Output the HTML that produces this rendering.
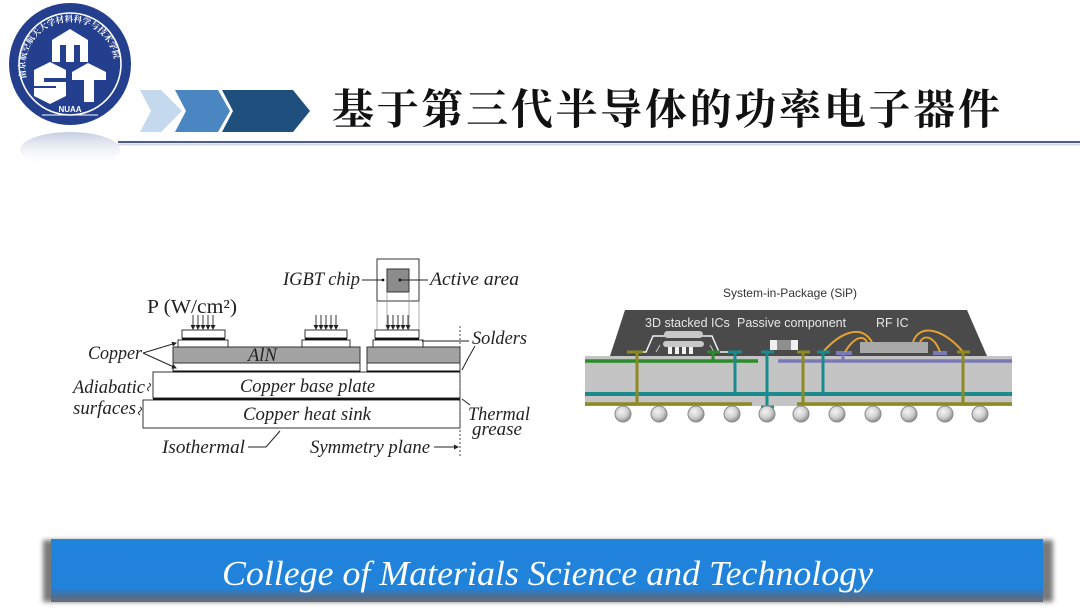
<!DOCTYPE html>
<html><head><meta charset="utf-8">
<style>
html,body{margin:0;padding:0;background:#fff;}
body{width:1080px;height:608px;overflow:hidden;}
svg{display:block;}
.it{font-family:"Liberation Serif",serif;font-style:italic;fill:#222;font-size:18.5px;}
.sf{font-family:"Liberation Sans",sans-serif;}
</style></head>
<body>
<svg width="1080" height="608" viewBox="0 0 1080 608" xmlns="http://www.w3.org/2000/svg">
<defs>
  <radialGradient id="ball" cx="40%" cy="35%" r="65%">
    <stop offset="0" stop-color="#f4f4f4"/>
    <stop offset="0.6" stop-color="#cfcfcf"/>
    <stop offset="1" stop-color="#8e8e8e"/>
  </radialGradient>
  <linearGradient id="ban" x1="0" y1="0" x2="0" y2="1">
    <stop offset="0" stop-color="#2083dc"/>
    <stop offset="0.78" stop-color="#2182da"/>
    <stop offset="0.9" stop-color="#4a6f96"/>
    <stop offset="1" stop-color="#6a6e74"/>
  </linearGradient>
  <linearGradient id="refl" x1="0" y1="0" x2="0" y2="1">
    <stop offset="0" stop-color="#8c9cc4" stop-opacity="0.5"/>
    <stop offset="1" stop-color="#ffffff" stop-opacity="0"/>
  </linearGradient>
  <filter id="blur2"><feGaussianBlur stdDeviation="2.5"/></filter>
  <path id="ringpath" d="M 27 80 A 45 45 0 1 1 113 80"/>
  <marker id="ahs" markerWidth="5" markerHeight="5" refX="4" refY="2.5" orient="auto" markerUnits="userSpaceOnUse">
    <path d="M0,0 L5,2.5 L0,5 z" fill="#222"/>
  </marker>
</defs>

<!-- ===== Logo ===== -->
<ellipse cx="70" cy="150" rx="50" ry="18" fill="url(#refl)"/>
<circle cx="70" cy="64" r="61" fill="#233f8e"/>
<circle cx="70" cy="64" r="51" fill="none" stroke="#fff" stroke-width="1.6"/>
<circle cx="70" cy="64" r="49" fill="#233f8e"/>
<text font-family="'Noto Serif CJK SC',serif" font-size="8.5" fill="#fff" font-weight="700">
  <textPath href="#ringpath" startOffset="2">南京航空航天大学材料科学与技术学院</textPath>
</text>
<path d="M52,40 L70,29 L88,40 L88,62 L80,62 L80,45 L74,45 L74,62 L66,62 L66,45 L60,45 L60,62 L52,62 Z" fill="#fff"/>
<path d="M34,70 L50,62 L66,70 L66,78 L44,78 L44,82 L66,82 L66,96 L50,104 L34,96 L34,88 L56,88 L56,86 L34,86 Z" fill="#fff"/>
<path d="M72,72 L88,63 L106,72 L106,80 L94,80 L94,102 L84,102 L84,80 L72,80 Z" fill="#fff"/>
<text x="70" y="112" text-anchor="middle" font-family="'Liberation Sans',sans-serif" font-weight="700" font-size="8" fill="#fff">NUAA</text>
<line x1="42" y1="115" x2="98" y2="115" stroke="#fff" stroke-width="1"/>

<!-- ===== Chevrons ===== -->
<polygon points="140,90 161,90 182,111 161,132 140,132 151,111" fill="#c4d8ee"/>
<polygon points="175,90 218,90 230,111 218,132 175,132 186,111" fill="#4a87c2"/>
<polygon points="222,90 293,90 310,111 293,132 222,132 233,111" fill="#1f4f7c"/>

<!-- ===== Title ===== -->
<text x="332" y="124" font-family="'Noto Serif CJK SC','Noto Sans CJK SC',serif" font-weight="700" font-size="42" fill="#111" textLength="668" lengthAdjust="spacing">基于第三代半导体的功率电子器件</text>
<line x1="118" y1="142" x2="1080" y2="142" stroke="#4d5b95" stroke-width="2"/>
<line x1="118" y1="144.5" x2="1080" y2="144.5" stroke="#d6dae6" stroke-width="2"/>

<!-- ===== Left diagram ===== -->
<g stroke="#333" stroke-width="1" fill="#fff">
  <rect x="377" y="259" width="42" height="42"/>
  <rect x="387" y="269" width="22" height="23" fill="#8c8c8c"/>
</g>
<g stroke="#999" stroke-width="0.8">
  <line x1="377" y1="301" x2="377" y2="330"/>
  <line x1="419" y1="301" x2="419" y2="330"/>
  <line x1="387" y1="292" x2="387" y2="330"/>
  <line x1="409" y1="292" x2="409" y2="330"/>
</g>
<circle cx="400" cy="280" r="1.5" fill="#111"/>
<line x1="400" y1="280" x2="428" y2="280" stroke="#222" stroke-width="1"/>
<line x1="362" y1="280" x2="383" y2="280" stroke="#222" stroke-width="1"/>
<circle cx="383" cy="280" r="1.4" fill="#111"/>
<text class="it" x="283" y="285" textLength="77" lengthAdjust="spacingAndGlyphs">IGBT chip</text>
<text class="it" x="430" y="285" textLength="89" lengthAdjust="spacingAndGlyphs">Active area</text>

<text x="147" y="313" font-family="'Liberation Serif',serif" font-size="20" fill="#222" textLength="90" lengthAdjust="spacingAndGlyphs">P (W/cm²)</text>

<g stroke="#222" stroke-width="0.9" marker-end="url(#ahs)">
  <line x1="193" y1="315" x2="193" y2="329"/><line x1="198" y1="315" x2="198" y2="329"/><line x1="203" y1="315" x2="203" y2="329"/><line x1="208" y1="315" x2="208" y2="329"/><line x1="213" y1="315" x2="213" y2="329"/>
  <line x1="316" y1="315" x2="316" y2="329"/><line x1="321" y1="315" x2="321" y2="329"/><line x1="326" y1="315" x2="326" y2="329"/><line x1="331" y1="315" x2="331" y2="329"/><line x1="336" y1="315" x2="336" y2="329"/>
  <line x1="388" y1="315" x2="388" y2="329"/><line x1="393" y1="315" x2="393" y2="329"/><line x1="398" y1="315" x2="398" y2="329"/><line x1="403" y1="315" x2="403" y2="329"/><line x1="408" y1="315" x2="408" y2="329"/>
</g>

<g stroke="#333" stroke-width="1" fill="#fff">
  <rect x="182" y="330" width="43" height="8"/>
  <rect x="305" y="330" width="42" height="8"/>
  <rect x="375" y="330" width="44" height="8"/>
  <rect x="178" y="340" width="50" height="7"/>
  <rect x="302" y="340" width="48" height="7"/>
  <rect x="373" y="340" width="50" height="7"/>
  <rect x="173" y="347" width="187" height="16" fill="#a3a3a3"/>
  <rect x="367" y="347" width="93" height="16" fill="#a3a3a3"/>
  <rect x="173" y="363" width="187" height="8"/>
  <rect x="367" y="363" width="93" height="8"/>
  <rect x="153" y="372" width="307" height="26"/>
  <rect x="143" y="400" width="317" height="28"/>
</g>
<g stroke="#111" stroke-width="2">
  <line x1="182" y1="339" x2="225" y2="339"/>
  <line x1="305" y1="339" x2="347" y2="339"/>
  <line x1="375" y1="339" x2="419" y2="339"/>
  <line x1="173" y1="371.5" x2="360" y2="371.5"/>
  <line x1="367" y1="371.5" x2="460" y2="371.5"/>
  <line x1="153" y1="399" x2="460" y2="399"/>
</g>
<line x1="460" y1="326" x2="460" y2="456" stroke="#444" stroke-width="1" stroke-dasharray="2,2"/>

<text class="it" x="88" y="359" textLength="54" lengthAdjust="spacingAndGlyphs">Copper</text>
<line x1="143" y1="353" x2="176" y2="343" stroke="#222" stroke-width="1" marker-end="url(#ahs)"/>
<line x1="143" y1="353" x2="176" y2="368" stroke="#222" stroke-width="1" marker-end="url(#ahs)"/>
<text class="it" x="248" y="361" fill="#333">AlN</text>
<text class="it" x="472" y="344" textLength="55" lengthAdjust="spacingAndGlyphs">Solders</text>
<line x1="422" y1="341" x2="469" y2="341" stroke="#222" stroke-width="1"/>
<path d="M475,346 Q468,358 462,370" fill="none" stroke="#222" stroke-width="1"/>
<text class="it" x="73" y="393" textLength="72" lengthAdjust="spacingAndGlyphs">Adiabatic</text>
<text class="it" x="73" y="414" textLength="63" lengthAdjust="spacingAndGlyphs">surfaces</text>
<path d="M149,383 q3,2 0,4 q-3,2 0,4" fill="none" stroke="#222" stroke-width="1"/>
<path d="M140,407 q3,2 0,4 q-3,2 0,4" fill="none" stroke="#222" stroke-width="1"/>
<text class="it" x="240" y="392" textLength="135" lengthAdjust="spacingAndGlyphs">Copper base plate</text>
<text class="it" x="243" y="420" textLength="128" lengthAdjust="spacingAndGlyphs">Copper heat sink</text>
<text class="it" x="468" y="420" textLength="62" lengthAdjust="spacingAndGlyphs">Thermal</text>
<text class="it" x="472" y="435" textLength="50" lengthAdjust="spacingAndGlyphs">grease</text>
<line x1="462" y1="399" x2="470" y2="405" stroke="#222" stroke-width="1"/>
<text class="it" x="162" y="453" textLength="83" lengthAdjust="spacingAndGlyphs">Isothermal</text>
<path d="M248,447 L266,447 L280,431" fill="none" stroke="#222" stroke-width="1"/>
<text class="it" x="310" y="453" textLength="120" lengthAdjust="spacingAndGlyphs">Symmetry plane</text>
<line x1="434" y1="447" x2="458" y2="447" stroke="#222" stroke-width="1" marker-end="url(#ahs)"/>

<!-- ===== Right diagram: SiP ===== -->
<text class="sf" x="790" y="297" text-anchor="middle" font-size="12" fill="#333">System-in-Package (SiP)</text>
<polygon points="625,310 967,310 987,356 610,356" fill="#4a4a4a"/>
<text class="sf" x="645" y="327" font-size="12.5" fill="#e8e8e8">3D stacked ICs</text>
<text class="sf" x="737" y="327" font-size="12.5" fill="#e8e8e8">Passive component</text>
<text class="sf" x="876" y="327" font-size="12.5" fill="#e8e8e8">RF IC</text>

<path d="M641,352 L646,352 L653,336 L712,336 L719,352 L728,352" fill="none" stroke="#f2f2f2" stroke-width="1.5"/>
<rect x="664" y="331" width="39" height="7" rx="3.5" fill="#c8c8c8"/>
<rect x="663" y="341" width="41" height="6" rx="3" fill="#c8c8c8"/>
<g fill="#f2f2f2"><rect x="668" y="347" width="4" height="7"/><rect x="675" y="347" width="4" height="7"/><rect x="682" y="347" width="4" height="7"/><rect x="689" y="347" width="4" height="7"/></g>
<path d="M656,352 L660,345 M710,345 L714,352" stroke="#ddd" stroke-width="0.8"/>

<rect x="770" y="340" width="28" height="10" fill="#f0f0f0"/>
<rect x="777" y="340" width="14" height="10" fill="#8f8f8f"/>

<rect x="860" y="342" width="68" height="11" fill="#a9a9a9"/>
<rect x="836" y="351" width="16" height="4" fill="#7b79b5"/>
<rect x="933" y="351" width="14" height="4" fill="#7b79b5"/>
<g fill="none" stroke="#e2a232" stroke-width="2">
  <path d="M823,352 C838,335 860,322 872,342"/>
  <path d="M845,352 C852,340 862,333 867,342"/>
  <path d="M913,342 C920,322 945,330 963,352"/>
  <path d="M920,342 C925,333 935,338 940,352"/>
</g>

<rect x="585" y="356" width="427" height="50" fill="#c4c4c4"/>
<line x1="585" y1="361" x2="758" y2="361" stroke="#2a8c2a" stroke-width="3.5"/>
<line x1="778" y1="361" x2="1012" y2="361" stroke="#7b79b5" stroke-width="3.5"/>
<line x1="585" y1="394" x2="1012" y2="394" stroke="#1b8a8c" stroke-width="4"/>
<line x1="585" y1="404" x2="752" y2="404" stroke="#8c8a22" stroke-width="3.5"/>
<line x1="797" y1="404" x2="1012" y2="404" stroke="#8c8a22" stroke-width="3.5"/>

<g stroke="#8c8a22" stroke-width="3">
  <line x1="637" y1="352" x2="637" y2="404"/><line x1="627" y1="352" x2="643" y2="352"/>
  <line x1="803" y1="352" x2="803" y2="404"/><line x1="797" y1="352" x2="810" y2="352"/>
  <line x1="963" y1="352" x2="963" y2="404"/><line x1="957" y1="352" x2="970" y2="352"/>
</g>
<g stroke="#1b8a8c" stroke-width="3">
  <line x1="735" y1="352" x2="735" y2="394"/><line x1="728" y1="352" x2="742" y2="352"/>
  <line x1="767" y1="352" x2="767" y2="407"/><line x1="761" y1="352" x2="774" y2="352"/>
  <line x1="761" y1="407" x2="774" y2="407"/>
  <line x1="823" y1="352" x2="823" y2="394"/><line x1="817" y1="352" x2="830" y2="352"/>
</g>
<g stroke="#2a8c2a" stroke-width="3">
  <line x1="713" y1="352" x2="713" y2="361"/><line x1="707" y1="352" x2="720" y2="352"/>
</g>
<line x1="843" y1="354" x2="843" y2="361" stroke="#7b79b5" stroke-width="3"/>

<g fill="url(#ball)" stroke="#8a8a8a" stroke-width="1">
  <circle cx="623" cy="414" r="8"/><circle cx="659" cy="414" r="8"/><circle cx="696" cy="414" r="8"/><circle cx="732" cy="414" r="8"/>
  <circle cx="767" cy="414" r="8"/><circle cx="801" cy="414" r="8"/><circle cx="837" cy="414" r="8"/><circle cx="873" cy="414" r="8"/>
  <circle cx="909" cy="414" r="8"/><circle cx="945" cy="414" r="8"/><circle cx="980" cy="414" r="8"/>
</g>

<!-- ===== Bottom banner ===== -->
<rect x="43" y="540" width="1010" height="62" fill="#7a7a7a" filter="url(#blur2)"/>
<rect x="51" y="539" width="992" height="63" fill="url(#ban)"/>
<text x="222" y="585" font-family="'Liberation Serif',serif" font-style="italic" font-size="35" fill="#fff" textLength="651" lengthAdjust="spacingAndGlyphs">College of Materials Science and Technology</text>
</svg>
</body></html>
